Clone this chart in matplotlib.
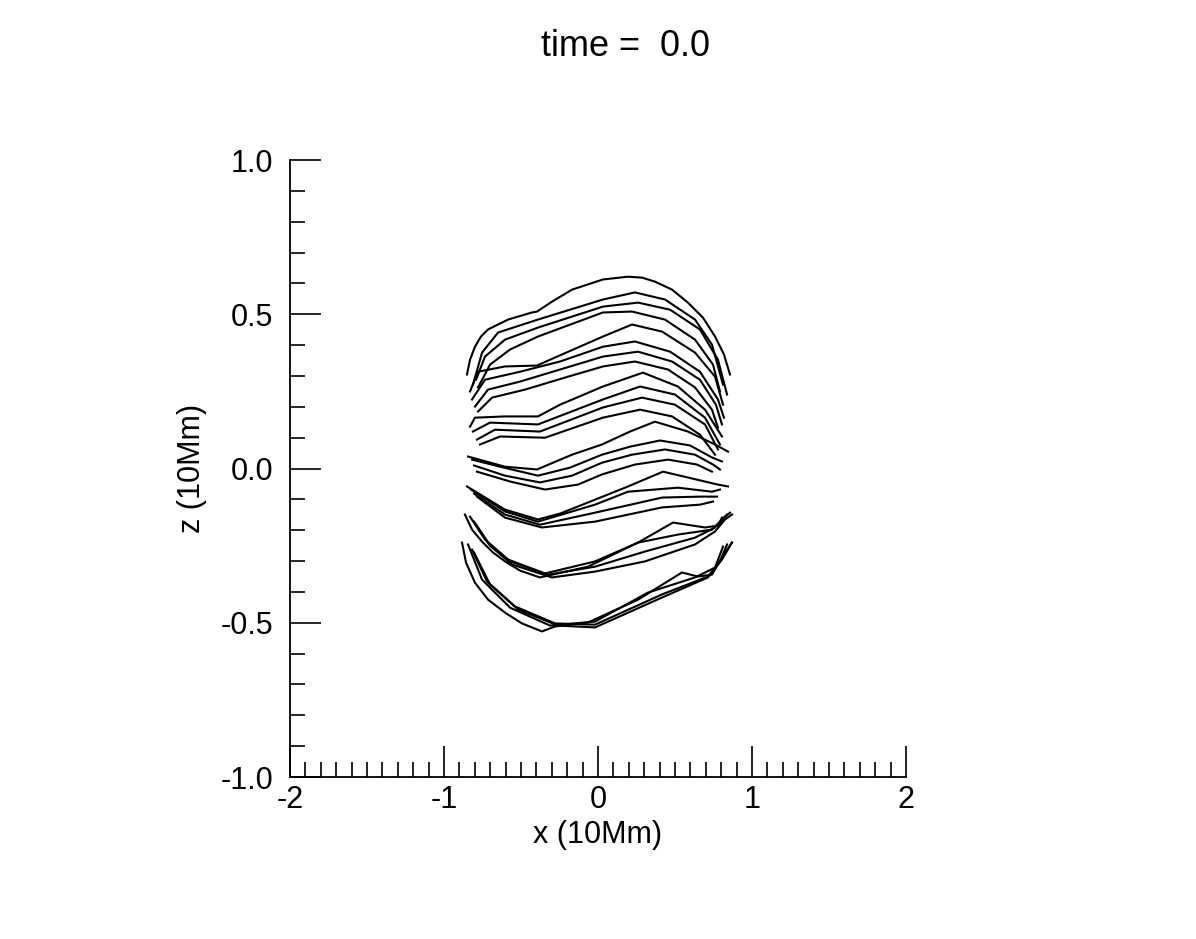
import matplotlib
matplotlib.use("Agg")
import matplotlib.pyplot as plt
from matplotlib.ticker import MultipleLocator, FormatStrFormatter

plt.rcParams['font.family'] = ['Liberation Sans', 'DejaVu Sans']
plt.rcParams['axes.unicode_minus'] = False

# field lines, traced by eye, grouped in bundles of four (x, z in 10Mm)
g1_x = [[-0.851, -0.831, -0.799, -0.760, -0.714, -0.584, -0.429, -0.396, -0.299, -0.169, 0.032, 0.195, 0.286, 0.370,
         0.481, 0.584, 0.682, 0.760, 0.818, 0.857],
        [-0.812, -0.753, -0.649, -0.390, 0.032, 0.240, 0.435, 0.630, 0.740, 0.812],
        [-0.792, -0.734, -0.604, -0.390, 0.032, 0.260, 0.468, 0.662, 0.779, 0.838],
        [-0.779, -0.701, -0.571, -0.390, 0.032, 0.221, 0.435, 0.630, 0.747, 0.792]]
g1_z = [[0.305, 0.353, 0.395, 0.428, 0.451, 0.483, 0.506, 0.509, 0.541, 0.580, 0.613, 0.622, 0.619, 0.606,
         0.580, 0.538, 0.489, 0.428, 0.370, 0.305],
        [0.272, 0.376, 0.441, 0.483, 0.548, 0.571, 0.548, 0.483, 0.402, 0.272],
        [0.288, 0.363, 0.418, 0.457, 0.525, 0.538, 0.515, 0.451, 0.353, 0.240],
        [0.263, 0.337, 0.386, 0.428, 0.506, 0.509, 0.483, 0.418, 0.337, 0.250]]

g2_x = [[-0.831, -0.779, -0.604, -0.396, -0.279, 0.032, 0.221, 0.416, 0.630, 0.760, 0.812],
        [-0.818, -0.734, -0.506, -0.247, 0.032, 0.240, 0.468, 0.662, 0.779, 0.818],
        [-0.799, -0.714, -0.506, -0.247, 0.032, 0.260, 0.481, 0.662, 0.766, 0.805],
        [-0.779, -0.688, -0.474, -0.214, 0.032, 0.240, 0.455, 0.630, 0.740, 0.779]]
g2_z = [[0.250, 0.314, 0.331, 0.334, 0.360, 0.428, 0.467, 0.444, 0.376, 0.298, 0.207],
        [0.224, 0.288, 0.314, 0.347, 0.395, 0.412, 0.379, 0.314, 0.224, 0.165],
        [0.201, 0.256, 0.282, 0.321, 0.363, 0.379, 0.347, 0.288, 0.207, 0.143],
        [0.185, 0.230, 0.256, 0.295, 0.331, 0.347, 0.321, 0.263, 0.191, 0.133]]

g3_x = [[-0.831, -0.799, -0.604, -0.390, -0.247, 0.032, 0.292, 0.519, 0.695, 0.805],
        [-0.812, -0.701, -0.390, 0.032, 0.273, 0.500, 0.695, 0.792],
        [-0.786, -0.669, -0.377, 0.032, 0.286, 0.500, 0.695, 0.779],
        [-0.766, -0.636, -0.344, 0.032, 0.273, 0.481, 0.662, 0.760]]
g3_z = [[0.136, 0.165, 0.169, 0.169, 0.207, 0.266, 0.311, 0.266, 0.191, 0.104],
        [0.120, 0.149, 0.143, 0.224, 0.266, 0.240, 0.165, 0.078],
        [0.094, 0.126, 0.120, 0.198, 0.230, 0.207, 0.143, 0.062],
        [0.078, 0.104, 0.100, 0.165, 0.191, 0.169, 0.110, 0.045]]

g4_x = [[-0.844, -0.604, -0.396, -0.169, 0.026, 0.208, 0.370, 0.584, 0.760, 0.844],
        [-0.818, -0.636, -0.390, -0.182, 0.026, 0.208, 0.403, 0.597, 0.740, 0.805],
        [-0.805, -0.604, -0.377, -0.169, 0.026, 0.221, 0.435, 0.630, 0.747, 0.792],
        [-0.786, -0.571, -0.344, -0.130, 0.026, 0.240, 0.455, 0.643, 0.740]]
g4_z = [[0.039, 0.006, -0.003, 0.045, 0.078, 0.120, 0.152, 0.120, 0.078, 0.055],
        [0.029, 0.006, -0.023, 0.003, 0.045, 0.071, 0.091, 0.075, 0.036, 0.023],
        [0.010, -0.023, -0.045, -0.023, 0.019, 0.045, 0.062, 0.045, 0.013, -0.003],
        [-0.010, -0.042, -0.068, -0.052, -0.019, 0.013, 0.029, 0.013, -0.010]]

g5_x = [[-0.851, -0.604, -0.390, -0.247, -0.065, 0.195, 0.422, 0.584, 0.779, 0.844],
        [-0.825, -0.604, -0.390, -0.019, 0.195, 0.519, 0.740, 0.792],
        [-0.805, -0.604, -0.377, -0.019, 0.416, 0.662, 0.773],
        [-0.786, -0.604, -0.364, -0.019, 0.416, 0.662, 0.747]]
g5_z = [[-0.058, -0.133, -0.165, -0.146, -0.110, -0.058, -0.010, -0.029, -0.052, -0.058],
        [-0.068, -0.139, -0.172, -0.117, -0.075, -0.062, -0.075, -0.068],
        [-0.081, -0.149, -0.182, -0.143, -0.094, -0.091, -0.091],
        [-0.091, -0.159, -0.191, -0.172, -0.126, -0.117, -0.107]]

g6_x = [[-0.864, -0.818, -0.753, -0.682, -0.604, -0.506, -0.377, -0.065, 0.260, 0.487, 0.695, 0.779, 0.812, 0.857],
        [-0.831, -0.734, -0.584, -0.344, -0.019, 0.260, 0.519, 0.740, 0.792, 0.805],
        [-0.805, -0.714, -0.571, -0.325, -0.019, 0.305, 0.630, 0.760, 0.805, 0.838],
        [-0.792, -0.701, -0.558, -0.299, -0.019, 0.305, 0.630, 0.760, 0.825, 0.870]]
g6_z = [[-0.149, -0.198, -0.237, -0.272, -0.301, -0.331, -0.353, -0.318, -0.240, -0.175, -0.191, -0.185, -0.162,
         -0.143],
        [-0.156, -0.230, -0.295, -0.340, -0.301, -0.240, -0.214, -0.198, -0.172, -0.159],
        [-0.172, -0.240, -0.301, -0.344, -0.318, -0.269, -0.224, -0.191, -0.165, -0.149],
        [-0.182, -0.250, -0.311, -0.353, -0.334, -0.301, -0.246, -0.204, -0.165, -0.149]]

g7_x = [[-0.883, -0.857, -0.799, -0.714, -0.604, -0.494, -0.364, -0.279, -0.065, 0.260, 0.545, 0.649, 0.740, 0.805,
         0.870],
        [-0.844, -0.753, -0.571, -0.312, -0.019, 0.325, 0.630, 0.760, 0.812],
        [-0.818, -0.721, -0.539, -0.279, -0.019, 0.416, 0.714, 0.792, 0.838],
        [-0.805, -0.701, -0.519, -0.260, -0.019, 0.416, 0.714, 0.805, 0.870]]
g7_z = [[-0.240, -0.305, -0.370, -0.425, -0.467, -0.502, -0.528, -0.512, -0.499, -0.425, -0.337, -0.350, -0.344,
         -0.288, -0.240],
        [-0.246, -0.360, -0.451, -0.509, -0.496, -0.402, -0.353, -0.321, -0.253],
        [-0.263, -0.366, -0.447, -0.502, -0.506, -0.408, -0.350, -0.301, -0.246],
        [-0.272, -0.376, -0.457, -0.509, -0.515, -0.418, -0.353, -0.295, -0.240]]

groups_x = [g1_x, g2_x, g3_x, g4_x, g5_x, g6_x, g7_x]
groups_z = [g1_z, g2_z, g3_z, g4_z, g5_z, g6_z, g7_z]

fig = plt.figure(figsize=(11.96, 9.39), dpi=100)
ax = fig.add_axes([0.2425, 0.1725, 0.515, 0.657])

for gx, gz in zip(groups_x, groups_z):
    for lx, lz in zip(gx, gz):
        ax.plot(lx, lz, color='black', linewidth=1.5, solid_joinstyle='round')

ax.set_xlim(-2, 2)
ax.set_ylim(-1, 1)

# IDL-like axes: only left and bottom, ticks pointing inwards
ax.spines['top'].set_visible(False)
ax.spines['right'].set_visible(False)
ax.spines['left'].set_linewidth(1.3)
ax.spines['bottom'].set_linewidth(1.3)

ax.xaxis.set_major_locator(MultipleLocator(1))
ax.xaxis.set_minor_locator(MultipleLocator(0.1))
ax.yaxis.set_major_locator(MultipleLocator(0.5))
ax.yaxis.set_minor_locator(MultipleLocator(0.1))
ax.xaxis.set_major_formatter(FormatStrFormatter('%d'))
ax.yaxis.set_major_formatter(FormatStrFormatter('%.1f'))

ax.tick_params(which='major', direction='in', length=22, width=1.2, labelsize=22)
ax.tick_params(which='minor', direction='in', length=10.5, width=1.2)
ax.tick_params(axis='x', which='major', pad=6)
ax.tick_params(axis='y', which='major', pad=12)

ax.set_xlabel('x (10Mm)', fontsize=22, labelpad=3)
ax.set_ylabel('z (10Mm)', fontsize=22, labelpad=10)

fig.text(0.523, 0.951, 'time =  0.0', fontsize=26, ha='center', va='center')

fig.savefig('out.png', dpi=100)
